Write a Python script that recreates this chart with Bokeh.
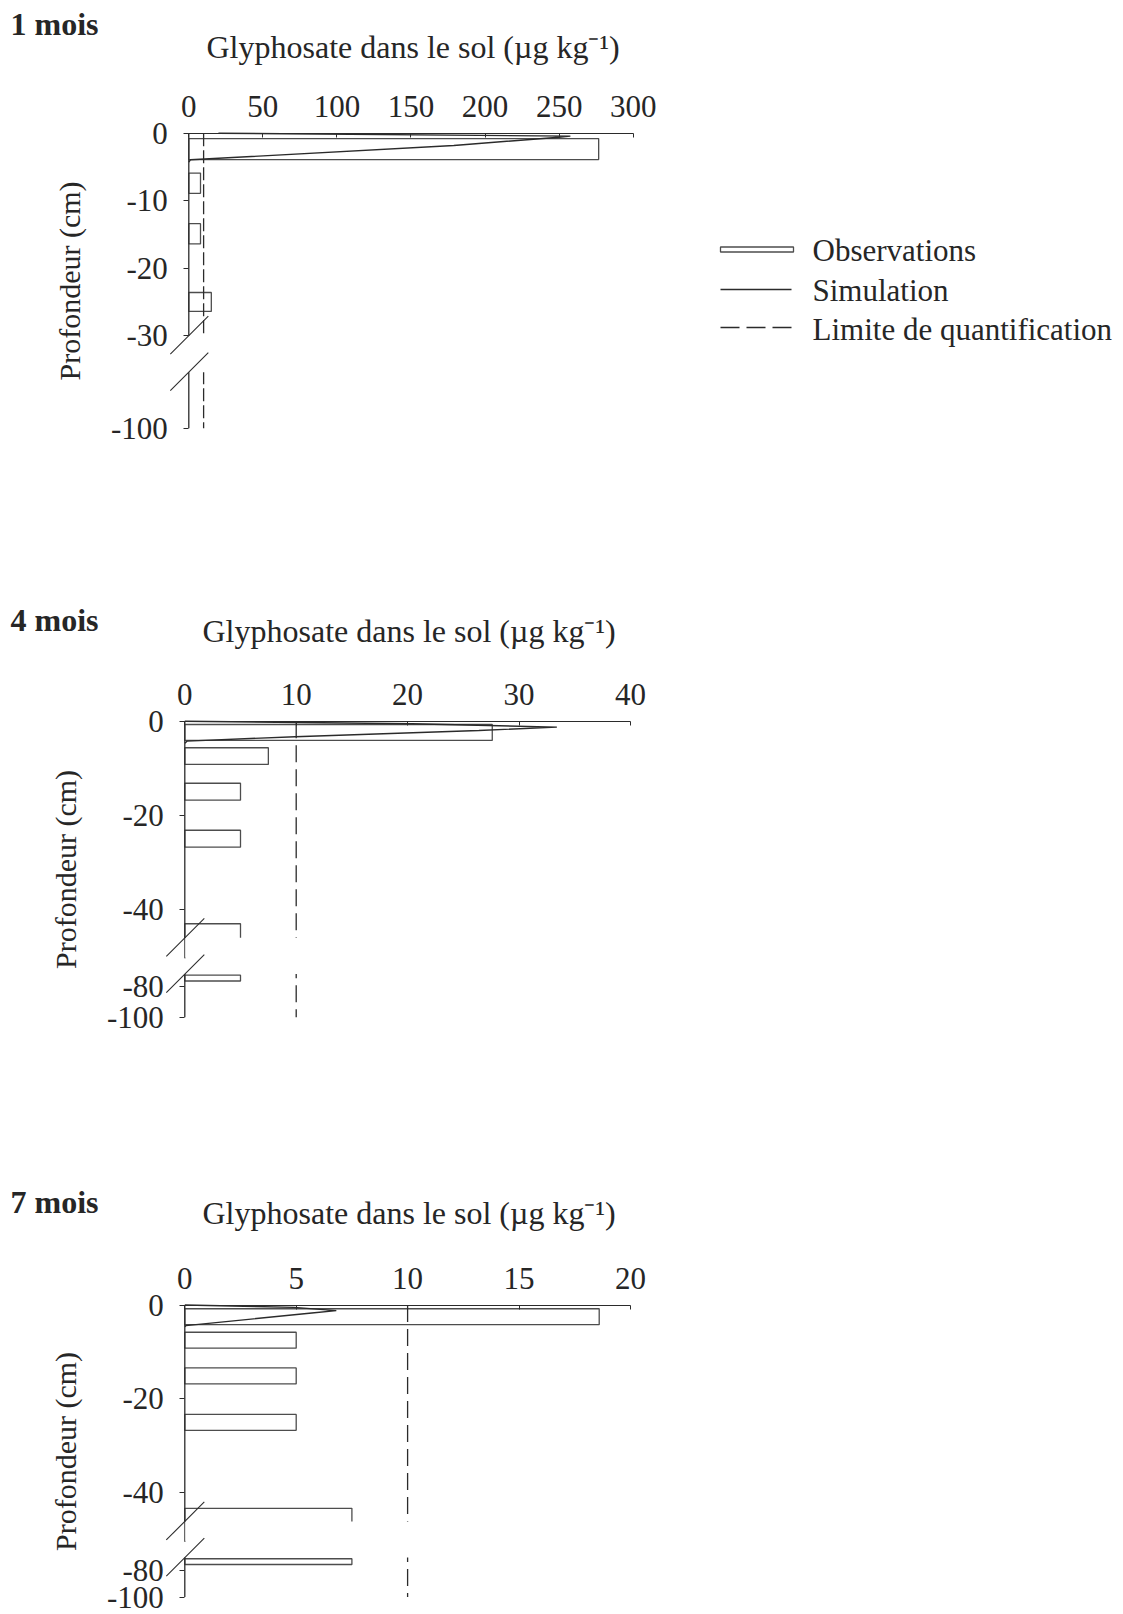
import numpy as np
from bokeh.plotting import figure
from bokeh.models import FixedTicker, Label, Range1d
from bokeh.layouts import column
from bokeh.embed import file_html
from bokeh.resources import INLINE

# ---------------- data ----------------
month_labels = ["1 mois", "4 mois", "7 mois"]
x_title = "Glyphosate dans le sol (µg kg⁻¹)"
y_title = "Profondeur (cm)"
legend_labels = ["Observations", "Simulation", "Limite de quantification"]
loq_values = [10, 10, 10]

x_ticks_1 = [0, 50, 100, 150, 200, 250, 300]
x_ticks_2 = [0, 10, 20, 30, 40]
x_ticks_3 = [0, 5, 10, 15, 20]
y_ticks_1 = [0, -10, -20, -30, -100]
y_ticks_2 = [0, -20, -40, -80, -100]
y_ticks_3 = [0, -20, -40, -80, -100]

# observations : layer top depth, bottom depth (cm), concentration (µg/kg)
obs1_top = [-0.8, -5.9, -13.4, -23.6]
obs1_bottom = [-3.9, -8.9, -16.4, -26.4]
obs1_value = [276.7, 7.9, 7.9, 15.2]

obs2_top = [-0.7, -5.65, -13.2, -23.2, -43.1, -72.0]
obs2_bottom = [-4.1, -9.2, -16.8, -26.8, -60.0, -76.0]
obs2_value = [27.6, 7.5, 5.0, 5.0, 5.0, 5.0]

obs3_top = [-0.8, -5.8, -13.4, -23.3, -43.3, -72.0]
obs3_bottom = [-4.2, -9.2, -16.8, -26.7, -60.0, -76.0]
obs3_value = [18.6, 5.0, 5.0, 5.0, 7.5, 7.5]

# simulation profiles
sim1_depth = [0, -0.44, -0.59, -1.82, -3.94, -4.3]
sim1_value = [20, 257.6, 249.8, 178.9, 1.1, 0]
sim2_depth = [0, -0.55, -1.27, -1.97, -3.3, -4.24, -4.7]
sim2_value = [0, 20.4, 33.4, 26.4, 9.9, 0.2, 0]
sim3_depth = [0, -0.5, -1.2, -1.7, -4.4, -4.6]
sim3_value = [0, 4.9, 6.8, 5.7, 0.05, 0]

# ---------------- style / layout ----------------
FONT = "Liberation Serif"
TXT = "#262626"
INK = "#2b2b2b"
BAR = "#4d4d4d"
W = 1123

LAYOUT = [
    dict(fig_top=0, fig_h=590, ax_px=188.3, top_px=132.7, pxu=1.4813, pxcm=6.751,
         knots_r=[-100, -30, 0], knots_d=[-43.7, -30, 0], band=(-35.4, -30.0),
         dash="13 4", month_xy=(10, 23), title_xy=(206, 46)),
    dict(fig_top=590, fig_h=560, ax_px=184.3, top_px=720.7, pxu=11.14, pxcm=4.70,
         knots_r=[-100, -80, -46.1, 0], knots_d=[-63, -56.5, -46.1, 0], band=(-53.8, -46.1),
         dash="17 7", month_xy=(10, 619), title_xy=(202, 630)),
    dict(fig_top=1150, fig_h=464, ax_px=184.3, top_px=1304.5, pxu=22.28, pxcm=4.695,
         knots_r=[-100, -80, -46.1, 0], knots_d=[-62.2, -56.5, -46.1, 0], band=(-53.8, -46.1),
         dash="17 7", month_xy=(10, 1201), title_xy=(202, 1212)),
]


def make_panel(L, month, xt, yt, o_top, o_bot, o_val, s_d, s_v, loq, legend=False):
    rk, dk = L["knots_r"], L["knots_d"]

    def disp(d):
        return np.interp(np.asarray(d, dtype=float), rk, dk)

    T, H = L["fig_top"], L["fig_h"]

    def px_x(P):
        return (P - L["ax_px"]) / L["pxu"]

    def px_y(Y):
        return (L["top_px"] - Y) / L["pxcm"]

    x0, x1 = px_x(0), px_x(W)
    p = figure(frame_width=W, frame_height=H,
               x_range=Range1d(x0, x1), y_range=Range1d(px_y(T + H), px_y(T)),
               min_border_left=0, min_border_right=0,
               min_border_top=0, min_border_bottom=0,
               x_axis_location="above", toolbar_location=None,
               output_backend="svg", title=None)
    p.outline_line_color = None
    p.grid.visible = False
    p.background_fill_color = "white"
    p.border_fill_color = "white"

    ymin_d = float(disp(min(yt)))

    # observations (bars)
    p.quad(left=[0] * len(o_val), right=o_val, top=disp(o_top), bottom=disp(o_bot),
           fill_color="white", line_color=BAR, line_width=1.3)
    # limit of quantification
    p.line(x=[loq, loq], y=[0, ymin_d], line_color=INK, line_width=1.3, line_dash=L["dash"])
    # simulation
    p.line(x=s_v, y=disp(s_d), line_color=INK, line_width=1.4)

    # axis break band
    b_lo, b_hi = L["band"]
    p.quad(left=[0.6 / L["pxu"]], right=[max(xt) * 1.05], top=[b_hi], bottom=[b_lo],
           fill_color="white", line_color=None)
    # broken y axis line
    p.segment(x0=[0, 0], y0=[0, b_lo], x1=[0, 0], y1=[b_hi, ymin_d],
              line_color=INK, line_width=1.3)
    # break marks
    for e in (b_hi, b_lo):
        p.line(x=[-18.5 / L["pxu"], 19.5 / L["pxu"]],
               y=[e - 18.5 / L["pxcm"], e + 19.5 / L["pxcm"]],
               line_color=INK, line_width=1.1)

    # x axis (top)
    xax = p.xaxis[0]
    xax.fixed_location = 0
    xax.ticker = FixedTicker(ticks=xt)
    xax.bounds = (0, max(xt))
    xax.major_tick_in = 4
    xax.major_tick_out = 0
    xax.minor_tick_line_color = None
    xax.axis_line_color = INK
    xax.major_tick_line_color = INK
    xax.axis_line_width = 1.2
    xax.major_label_standoff = 16
    xax.major_label_text_font = FONT
    xax.major_label_text_font_size = "31px"
    xax.major_label_text_color = TXT

    # y axis (broken)
    yax = p.yaxis[0]
    tick_pos = [round(float(disp(t)), 4) for t in yt]
    yax.fixed_location = 0
    yax.ticker = FixedTicker(ticks=tick_pos)
    yax.major_label_overrides = {tp: str(t) for tp, t in zip(tick_pos, yt)}
    yax.bounds = (ymin_d, 0)
    yax.axis_line_color = None
    yax.major_tick_out = 5
    yax.major_tick_in = 0
    yax.minor_tick_line_color = None
    yax.major_tick_line_color = INK
    yax.major_label_standoff = 16
    yax.major_label_text_font = FONT
    yax.major_label_text_font_size = "31px"
    yax.major_label_text_color = TXT
    yax.axis_label = y_title
    yax.axis_label_text_font = FONT
    yax.axis_label_text_font_style = "normal"
    yax.axis_label_text_font_size = "30px"
    yax.axis_label_text_color = TXT
    yax.axis_label_standoff = 22

    # month and title
    mx, my = L["month_xy"]
    p.add_layout(Label(x=px_x(mx), y=px_y(my), text=month, text_font=FONT,
                       text_font_style="bold", text_font_size="32px",
                       text_baseline="middle", text_align="left", text_color=TXT))
    tx, ty = L["title_xy"]
    p.add_layout(Label(x=px_x(tx), y=px_y(ty), text=x_title, text_font=FONT,
                       text_font_size="32px", text_baseline="middle",
                       text_align="left", text_color=TXT))

    if legend:
        p.quad(left=[px_x(720)], right=[px_x(793)], top=[px_y(246.5)], bottom=[px_y(251.5)],
               fill_color="white", line_color=BAR, line_width=1.3)
        p.line(x=[px_x(720), px_x(791)], y=[px_y(289)] * 2, line_color=INK, line_width=1.3)
        p.line(x=[px_x(720), px_x(791)], y=[px_y(327)] * 2, line_color=INK, line_width=1.3,
               line_dash="19 7")
        for lab, yy in zip(legend_labels, (250, 289.5, 329)):
            p.add_layout(Label(x=px_x(812), y=px_y(yy), text=lab, text_font=FONT,
                               text_font_size="31px", text_baseline="middle",
                               text_align="left", text_color=TXT))
    return p


p1 = make_panel(LAYOUT[0], month_labels[0], x_ticks_1, y_ticks_1, obs1_top, obs1_bottom,
                obs1_value, sim1_depth, sim1_value, loq_values[0], legend=True)
p2 = make_panel(LAYOUT[1], month_labels[1], x_ticks_2, y_ticks_2, obs2_top, obs2_bottom,
                obs2_value, sim2_depth, sim2_value, loq_values[1])
p3 = make_panel(LAYOUT[2], month_labels[2], x_ticks_3, y_ticks_3, obs3_top, obs3_bottom,
                obs3_value, sim3_depth, sim3_value, loq_values[2])

layout = column(p1, p2, p3, spacing=0)
open("out.html", "w").write(file_html(layout, INLINE))
